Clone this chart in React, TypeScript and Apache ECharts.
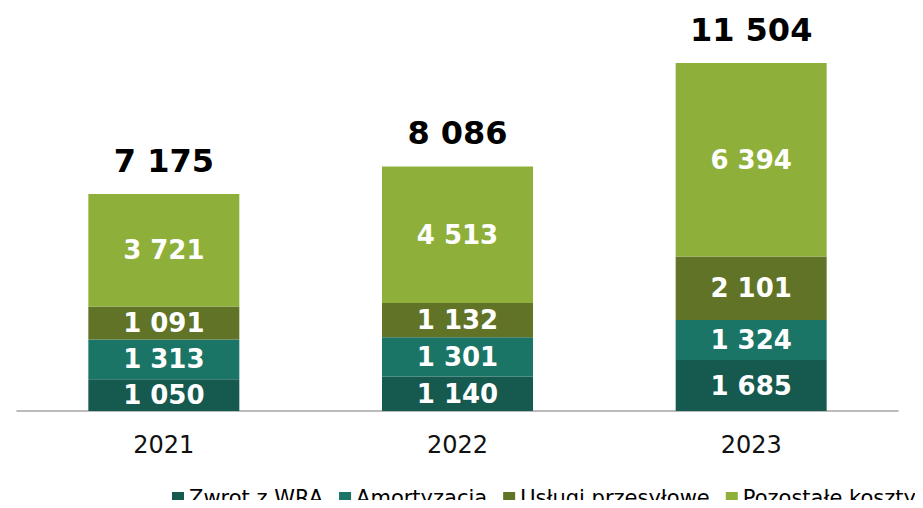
import React, { useEffect, useRef } from "react";
import * as echarts from "echarts";

const categories = ["2021", "2022", "2023"];
const seriesNames = ["Zwrot z WRA", "Amortyzacja", "Usługi przesyłowe", "Pozostałe koszty"];
const zwrotWRA = [1050, 1140, 1685];
const amortyzacja = [1313, 1301, 1324];
const uslugiPrzesylowe = [1091, 1132, 2101];
const pozostaleKoszty = [3721, 4513, 6394];
const colors = ["#16594e", "#1b7566", "#617326", "#8eb03a"];

const fmt = (v: number) => String(v).replace(/\B(?=(\d{3})+(?!\d))/g, " ");

export default function App() {
  const ref = useRef<HTMLDivElement>(null);
  useEffect(() => {
    if (!ref.current) return;
    const chart = echarts.init(ref.current, undefined, { renderer: "svg" });
    const values = [zwrotWRA, amortyzacja, uslugiPrzesylowe, pozostaleKoszty];
    const totals = categories.map((_, i) => values.reduce((s, arr) => s + arr[i], 0));
    const font = "'DejaVu Sans', Verdana, sans-serif";
    const series: any[] = values.map((arr, k) => ({
      name: seriesNames[k],
      type: "bar",
      stack: "total",
      barWidth: 151,
      data: arr,
      itemStyle: { color: colors[k] },
      label: {
        show: true,
        position: "inside",
        color: "#ffffff",
        fontFamily: font,
        fontWeight: "bold",
        fontSize: 26,
        formatter: (p: any) => fmt(p.value),
      },
    }));
    series.push({
      name: "Suma",
      type: "bar",
      stack: "total",
      barWidth: 151,
      data: totals.map(() => 0),
      itemStyle: { color: "transparent" },
      label: {
        show: true,
        position: "top",
        distance: 17,
        color: "#000000",
        fontFamily: font,
        fontWeight: "bold",
        fontSize: 32,
        formatter: (p: any) => fmt(totals[p.dataIndex]),
      },
    });
    chart.setOption({
      animation: false,
      color: colors,
      grid: { left: 17, right: 25, top: 48, bottom: 97 },
      legend: {
        data: seriesNames,
        left: 172,
        top: 486,
        padding: 0,
        itemWidth: 12,
        itemHeight: 12,
        itemGap: 16,
        icon: "rect",
        textStyle: { fontFamily: font, fontSize: 21, lineHeight: 24, color: "#000000" },
      },
      xAxis: {
        type: "category",
        data: categories,
        axisLine: { lineStyle: { color: "#a6a6a6", width: 1.5 } },
        axisTick: { show: false },
        axisLabel: { color: "#111111", fontFamily: font, fontSize: 24, margin: 22 },
      },
      yAxis: {
        type: "value",
        min: 0,
        max: 12000,
        show: false,
        splitLine: { show: false },
      },
      series,
    });
    return () => chart.dispose();
  }, []);
  return <div ref={ref} style={{ width: 923, height: 508, margin: -8 }} />;
}
